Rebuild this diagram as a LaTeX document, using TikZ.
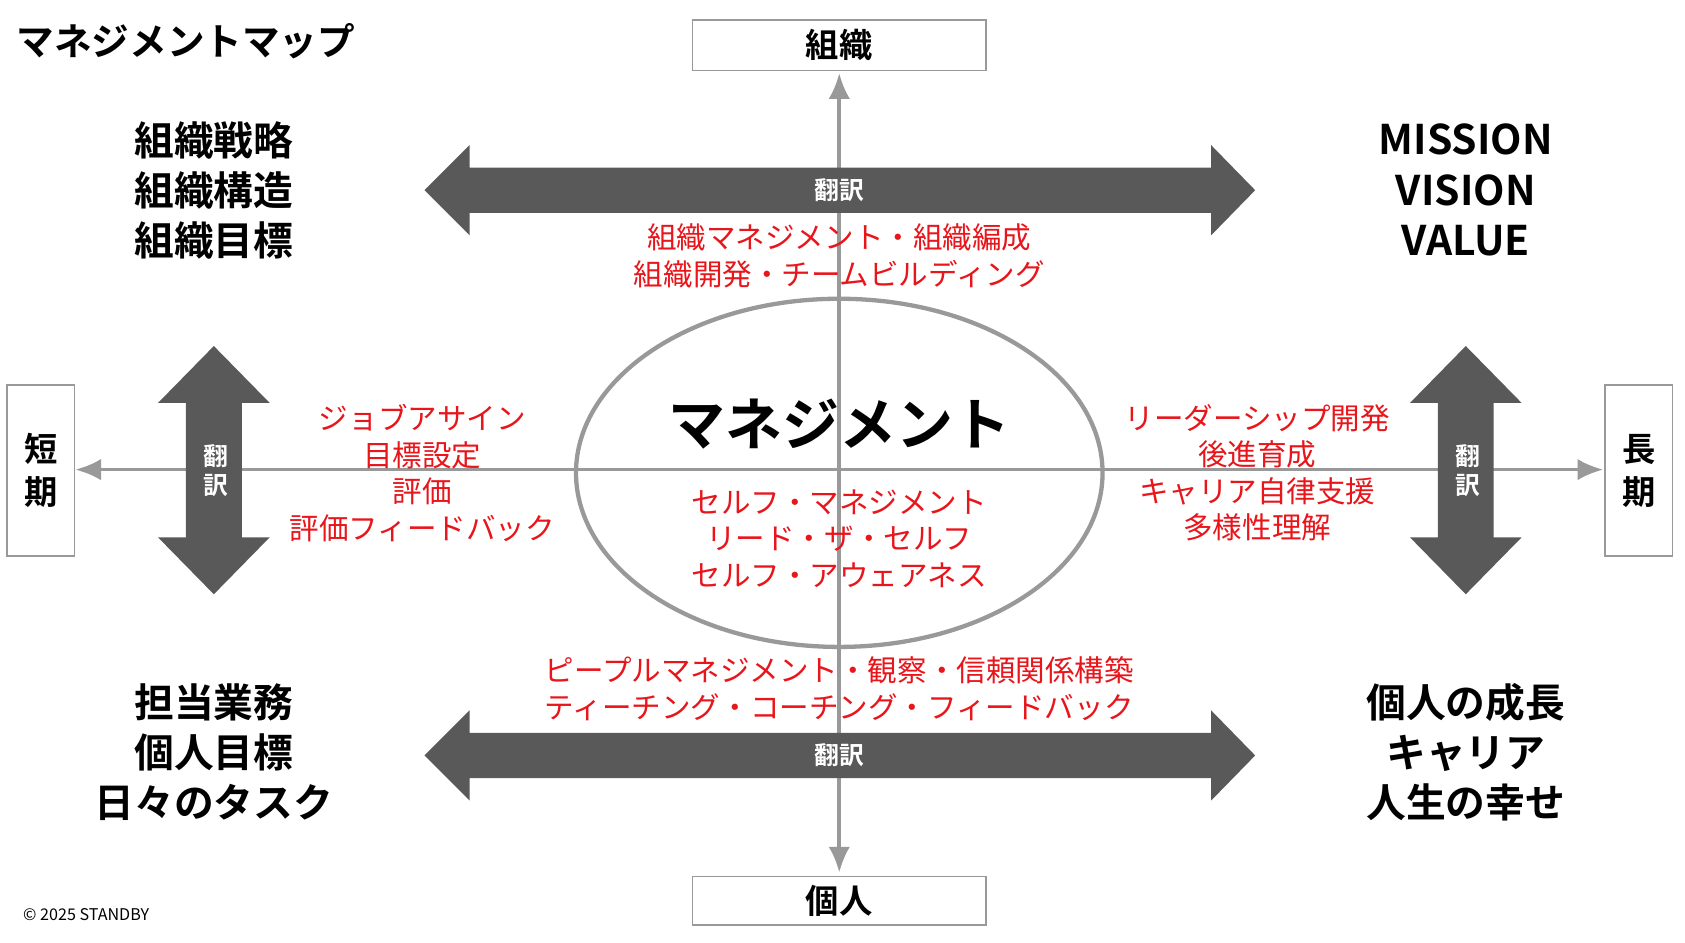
\documentclass[tikz,border=0pt]{standalone}
\usepackage{fontspec}
\usetikzlibrary{arrows.meta}
\setmainfont{Noto Sans CJK JP}
\newfontfamily\bfj{Noto Sans CJK JP Bold}
\definecolor{ar}{HTML}{595959}
\definecolor{ax}{HTML}{999999}
\definecolor{rd}{HTML}{E8151B}
\begin{document}
\begin{tikzpicture}[x=1pt,y=-1pt,
 lab/.style={font=\bfj\fontsize{37}{46.5}\selectfont,align=center},
 red/.style={text=rd,font=\fontsize{27.5}{34}\selectfont,align=center},
 tr/.style={text=white,font=\bfj\fontsize{23}{27}\selectfont,align=center},
 bx/.style={draw=ax,line width=1.5pt,fill=white,font=\bfj\fontsize{31}{40}\selectfont,align=center},
 axis/.style={draw=ax,line width=3.5pt,-{Latex[length=24pt,width=20pt]}}]
\useasboundingbox (0,0) rectangle (1568,877);
% axes
\coordinate (c) at (781,437);
\coordinate (t) at (781,68);
\coordinate (b) at (781,812);
\coordinate (l) at (70,437);
\coordinate (r) at (1492,437);
\draw[axis] (c) -- (t);
\draw[axis] (c) -- (b);
\draw[axis] (c) -- (l);
\draw[axis] (c) -- (r);
\draw[ax,line width=4pt] (781,440) ellipse [x radius=245,y radius=162];
% horizontal double arrows
\foreach \y/\n in {177/ht,703/hb}{
 \fill[ar] (395,\y) -- (437,\y-42) -- (437,\y-21) -- (1127,\y-21) -- (1127,\y-42) -- (1168,\y) -- (1127,\y+42) -- (1127,\y+21) -- (437,\y+21) -- (437,\y+42) -- cycle;
 \node[tr] (\n) at (781,\y) {翻訳};}
\foreach \x/\n in {199/vl,1364/vr}{
 \fill[ar] (\x,322) -- (\x+52,375) -- (\x+26,375) -- (\x+26,500) -- (\x+52,500) -- (\x,553) -- (\x-52,500) -- (\x-26,500) -- (\x-26,375) -- (\x-52,375) -- cycle;
 \node[tr] (\n) at (\x+2,438) {翻\\訳};}
% boxes
\node[bx,minimum width=273,minimum height=47] (org) at (781,42) {組織};
\node[bx,minimum width=273,minimum height=45] (ind) at (781,838) {個人};
\node[bx,minimum width=63,minimum height=159] (st) at (38,438) {短\\期};
\node[bx,minimum width=63,minimum height=159] (lt) at (1525,438) {長\\期};
% texts
\node[font=\bfj\fontsize{35}{40}\selectfont,anchor=west] (title) at (12,38) {マネジメントマップ};
\node[lab] (q1) at (199,177) {組織戦略\\組織構造\\組織目標};
\node[lab,font=\bfj\fontsize{38}{47}\selectfont] (q2) at (1364,177) {MISSION\\VISION\\VALUE};
\node[lab] (q3) at (199,700) {担当業務\\個人目標\\日々のタスク};
\node[lab] (q4) at (1364,700) {個人の成長\\キャリア\\人生の幸せ};
\node[font=\bfj\fontsize{53}{60}\selectfont] (m) at (781,395) {マネジメント};
\node[red] (r1) at (781,238) {組織マネジメント・組織編成\\組織開発・チームビルディング};
\node[red] (r2) at (393,440) {ジョブアサイン\\目標設定\\評価\\評価フィードバック};
\node[red] (r3) at (1170,440) {リーダーシップ開発\\後進育成\\キャリア自律支援\\多様性理解};
\node[red] (r4) at (781,501) {セルフ・マネジメント\\リード・ザ・セルフ\\セルフ・アウェアネス};
\node[red] (r5) at (781,641) {ピープルマネジメント・観察・信頼関係構築\\ティーチング・コーチング・フィードバック};
\node[font=\fontsize{15}{17}\selectfont,anchor=west] (cp) at (18,851) {© 2025 STANDBY};
\end{tikzpicture}
\end{document}
